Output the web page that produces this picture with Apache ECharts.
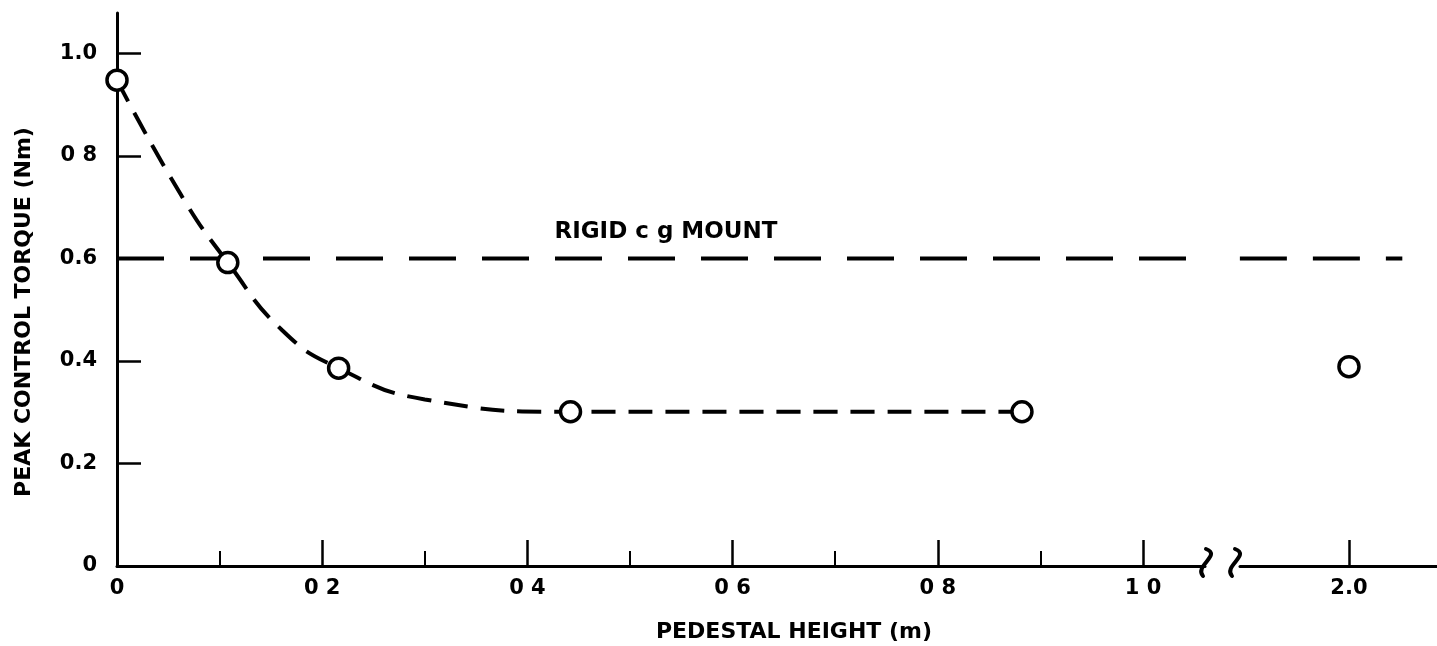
<!DOCTYPE html>
<html>
<head>
<meta charset="utf-8">
<script src="https://cdn.jsdelivr.net/npm/echarts@6/dist/echarts.min.js"></script>
<style>
  html, body { margin: 0; padding: 0; background: #fff; }
  #chart { width: 1437px; height: 646px; }
</style>
</head>
<body>
<div id="chart"></div>
<script>
// measured points (open circles)
const pedestalHeight = [0, 0.108, 0.216, 0.442, 0.882, 2.0];
const peakTorque = [0.948, 0.592, 0.386, 0.301, 0.301, 0.389];

// dashed fitted curve
const curveX = [0, 0.063, 0.108, 0.161, 0.216, 0.300, 0.442, 0.882];
const curveY = [0.948, 0.722, 0.592, 0.460, 0.386, 0.325, 0.301, 0.301];

// rigid c.g. mount reference level
const rigidX = [0, 2.052];
const rigidY = [0.6, 0.6];

const yTicks = [0, 0.2, 0.4, 0.6, 0.8, 1.0];
const yTickLabels = ['0', '0.2', '0.4', '0.6', '0 8', '1.0'];
const xMajorTicks = [0, 0.2, 0.4, 0.6, 0.8, 1.0];
const xMajorLabels = ['0', '0 2', '0 4', '0 6', '0 8', '1 0'];
const xMinorTicks = [0.1, 0.3, 0.5, 0.7, 0.9];
const xFarTicks = [2.0];
const xFarLabels = ['2.0'];

const FONT = 'DejaVu Sans';
const INK = '#000';

const pick = (vals, labels) => v => {
  const i = vals.findIndex(t => Math.abs(t - v) < 1e-6);
  return i < 0 ? '' : labels[i];
};

const chart = echarts.init(document.getElementById('chart'), null, { renderer: 'canvas' });

const points = pedestalHeight.map((x, i) => [x, peakTorque[i]]);
const circle = {
  type: 'scatter', symbol: 'circle', symbolSize: 20, z: 5,
  itemStyle: { color: '#fff', borderColor: INK, borderWidth: 3.5, opacity: 1 },
};
const rigidData = rigidX.map((x, i) => [x, rigidY[i]]);
const tickLabel = { color: INK, fontFamily: FONT, fontWeight: 'bold', fontSize: 21 };

chart.setOption({
  backgroundColor: '#fff',
  animation: false,
  grid: [
    { left: 117, right: 232, top: 13, bottom: 80 },
    { left: 1240, right: 0, top: 13, bottom: 80 },
  ],
  xAxis: [
    {
      type: 'value', gridIndex: 0, min: 0, max: 1.0604, position: 'bottom',
      axisLine: { lineStyle: { color: INK, width: 3 } },
      axisTick: { customValues: xMajorTicks, inside: true, length: 26, lineStyle: { color: INK, width: 2.5 } },
      axisLabel: Object.assign({ customValues: xMajorTicks, formatter: pick(xMajorTicks, xMajorLabels), margin: 12 }, tickLabel),
      splitLine: { show: false },
    },
    {
      type: 'value', gridIndex: 0, min: 0, max: 1.0604, position: 'bottom',
      axisLine: { show: false },
      axisTick: { customValues: xMinorTicks, inside: true, length: 15, lineStyle: { color: INK, width: 2 } },
      axisLabel: { show: false },
      splitLine: { show: false },
    },
    {
      type: 'value', gridIndex: 1, min: 1.8938, max: 2.0858, position: 'bottom',
      axisLine: { lineStyle: { color: INK, width: 3 } },
      axisTick: { customValues: xFarTicks, inside: true, length: 26, lineStyle: { color: INK, width: 2.5 } },
      axisLabel: Object.assign({ customValues: xFarTicks, formatter: pick(xFarTicks, xFarLabels), margin: 12 }, tickLabel),
      splitLine: { show: false },
    },
  ],
  yAxis: [
    {
      type: 'value', gridIndex: 0, min: 0, max: 1.079,
      axisLine: { show: true, lineStyle: { color: INK, width: 3 } },
      axisTick: { show: true, customValues: yTicks, inside: true, length: 24, lineStyle: { color: INK, width: 2.5 } },
      axisLabel: Object.assign({ customValues: yTicks, formatter: pick(yTicks, yTickLabels), margin: 20 }, tickLabel),
      splitLine: { show: false },
    },
    {
      type: 'value', gridIndex: 1, min: 0, max: 1.079, show: false,
    },
  ],
  series: [
    {
      type: 'line', xAxisIndex: 0, yAxisIndex: 0, data: rigidData, symbol: 'none', clip: true,
      lineStyle: { color: INK, width: 4, type: [47, 26] },
    },
    {
      type: 'line', xAxisIndex: 2, yAxisIndex: 1, data: rigidData, symbol: 'none', clip: true,
      lineStyle: { color: INK, width: 4, type: [47, 26], dashOffset: 28 },
    },
    {
      type: 'line', xAxisIndex: 0, yAxisIndex: 0, symbol: 'none', smooth: 0.5,
      data: curveX.map((x, i) => [x, curveY[i]]),
      lineStyle: { color: INK, width: 4, type: [24, 13] },
    },
    Object.assign({ xAxisIndex: 0, yAxisIndex: 0, data: points.filter(p => p[0] <= 1.06) }, circle),
    Object.assign({ xAxisIndex: 2, yAxisIndex: 1, data: points.filter(p => p[0] > 1.06) }, circle),
  ],
});

// annotation, axis titles and the axis break marks
const lbl = chart.convertToPixel({ xAxisIndex: 0, yAxisIndex: 0 }, [0.535, 0.6]);
const brkL = chart.convertToPixel({ xAxisIndex: 0, yAxisIndex: 0 }, [1.0604, 0]);
const brkR = chart.convertToPixel({ xAxisIndex: 2, yAxisIndex: 1 }, [1.8938, 0]);
const sMark = (cx, cy) => ({
  type: 'bezierCurve',
  shape: { x1: cx - 2, y1: cy - 14, cpx1: cx + 14, cpy1: cy - 8, cpx2: cx - 14, cpy2: cy + 3, x2: cx - 5, y2: cy + 13 },
  style: { stroke: INK, lineWidth: 4, fill: null, lineCap: 'round' },
});
const titleFont = 'bold 22px "DejaVu Sans"';

chart.setOption({
  graphic: [
    {
      type: 'text', x: lbl[0], y: lbl[1] - 26,
      style: { text: 'RIGID c g MOUNT', fill: INK, font: 'bold 23px "DejaVu Sans"', align: 'center', verticalAlign: 'middle' },
    },
    {
      type: 'text', x: 794, y: 632,
      style: { text: 'PEDESTAL HEIGHT (m)', fill: INK, font: titleFont, align: 'center', verticalAlign: 'middle' },
    },
    {
      type: 'text', x: 24, y: 312, rotation: Math.PI / 2,
      style: { text: 'PEAK CONTROL TORQUE (Nm)', fill: INK, font: titleFont, align: 'center', verticalAlign: 'middle' },
    },
    sMark(brkL[0] + 3, brkL[1] - 3),
    sMark(brkR[0] - 3, brkR[1] - 3),
  ],
});
</script>
</body>
</html>
